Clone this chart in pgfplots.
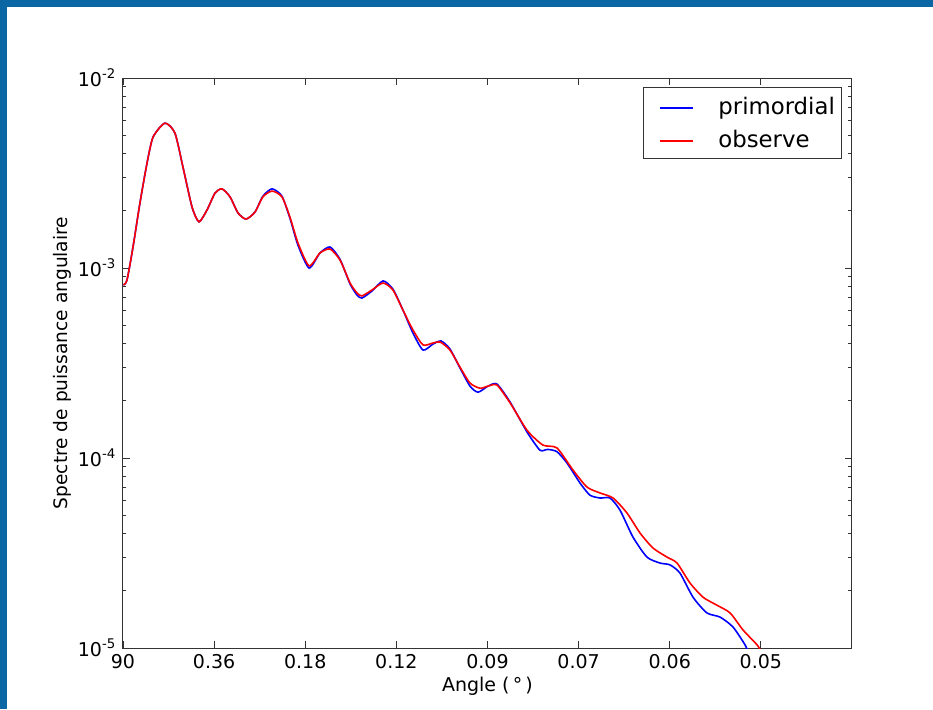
\documentclass[border=0pt]{standalone}
\usepackage{pgfplots}
\pgfplotsset{compat=1.18}
\usepackage{fontspec}
\setmainfont{DejaVu Sans}
\definecolor{frameblue}{RGB}{11,103,164}

\begin{document}
\fontsize{9.5pt}{11pt}\selectfont
\begin{tikzpicture}
  % blue frame of the slide (top and left bands)
  \fill[frameblue] (-61.5pt,324pt) rectangle (405pt,320.5pt);
  \fill[frameblue] (-61.5pt,324pt) rectangle (-58pt,-30.5pt);
  \begin{axis}[
      at={(0,0)}, anchor=south west,
      scale only axis,
      width=364.5pt, height=285pt,
      ymode=log,
      xmin=0, xmax=4000,
      ymin=1e-5, ymax=1e-2,
      xtick={0,500,1000,1500,2000,2500,3000,3500},
      xticklabels={90,0.36,0.18,0.12,0.09,0.07,0.06,0.05},
      ytick={1e-5,1e-4,1e-3,1e-2},
      yticklabels={10\textsuperscript{-5},10\textsuperscript{-4},10\textsuperscript{-3},10\textsuperscript{-2}},
      minor ytick={2e-5,3e-5,4e-5,5e-5,6e-5,7e-5,8e-5,9e-5,
                   2e-4,3e-4,4e-4,5e-4,6e-4,7e-4,8e-4,9e-4,
                   2e-3,3e-3,4e-3,5e-3,6e-3,7e-3,8e-3,9e-3},
      tick align=inside,
      major tick length=3.5pt,
      minor tick length=1.75pt,
      every tick/.style={black!80, line width=0.4pt},
      axis line style={black!80, line width=0.5pt},
      xlabel={Angle (\,°\,)},
      ylabel={Spectre de puissance angulaire},
      every axis x label/.style={at={(axis description cs:0.5,-0.0667)}, anchor=center},
      every axis y label/.style={at={(axis description cs:-0.0837,0.5)}, anchor=center, rotate=90,
                                 font=\fontsize{9.3pt}{11pt}\selectfont},
    ]
    % primordial
    \addplot[color=blue, line width=0.8pt, smooth, tension=0.4] coordinates {
      (2,8.14e-4) (22,8.65e-4) (55,1.29e-3) (93,2.20e-3) (132,3.57e-3)
      (165,4.89e-3) (230,5.79e-3) (285,5.13e-3) (329,3.40e-3) (379,2.09e-3)
      (417,1.75e-3) (461,2.02e-3) (505,2.48e-3) (543,2.61e-3) (587,2.37e-3)
      (631,1.95e-3) (675,1.81e-3) (724,1.97e-3) (768,2.39e-3) (818,2.61e-3)
      (872,2.39e-3) (916,1.83e-3) (960,1.32e-3) (1021,1.00e-3) (1081,1.20e-3)
      (1136,1.29e-3) (1191,1.11e-3) (1246,8.24e-4) (1284,7.21e-4) (1311,6.95e-4)
      (1366,7.57e-4) (1427,8.55e-4) (1481,7.75e-4) (1536,6.01e-4) (1591,4.55e-4)
      (1646,3.70e-4) (1701,3.98e-4) (1745,4.13e-4) (1794,3.75e-4) (1849,2.98e-4)
      (1904,2.39e-4) (1948,2.22e-4) (2003,2.39e-4) (2052,2.45e-4) (2124,1.97e-4)
      (2217,1.37e-4) (2288,1.10e-4) (2330,1.11e-4) (2381,1.08e-4) (2436,9.42e-5)
      (2508,7.38e-5) (2562,6.38e-5) (2617,6.16e-5) (2672,6.16e-5) (2727,5.32e-5)
      (2798,3.84e-5) (2875,3.01e-5) (2947,2.80e-5) (3001,2.74e-5) (3056,2.48e-5)
      (3128,1.85e-5) (3204,1.53e-5) (3276,1.455e-5) (3347,1.29e-5) (3413,1.04e-5)
      (3430,9.5e-6)
    };
    % observe
    \addplot[color=red, line width=0.8pt, smooth, tension=0.4] coordinates {
      (2,8.14e-4) (22,8.65e-4) (55,1.29e-3) (93,2.20e-3) (132,3.57e-3)
      (165,4.89e-3) (230,5.79e-3) (285,5.13e-3) (329,3.40e-3) (379,2.09e-3)
      (417,1.75e-3) (461,2.02e-3) (505,2.48e-3) (543,2.61e-3) (587,2.37e-3)
      (631,1.95e-3) (675,1.81e-3) (724,1.97e-3) (768,2.37e-3) (818,2.54e-3)
      (872,2.37e-3) (916,1.855e-3) (960,1.355e-3) (1021,1.026e-3) (1081,1.20e-3)
      (1136,1.259e-3) (1191,1.10e-3) (1246,8.34e-4) (1284,7.39e-4) (1311,7.13e-4)
      (1366,7.66e-4) (1427,8.34e-4) (1481,7.66e-4) (1536,6.01e-4) (1591,4.72e-4)
      (1646,3.94e-4) (1701,4.03e-4) (1740,4.08e-4) (1794,3.70e-4) (1849,3.01e-4)
      (1904,2.48e-4) (1959,2.33e-4) (2003,2.39e-4) (2052,2.42e-4) (2124,1.95e-4)
      (2217,1.40e-4) (2304,1.17e-4) (2381,1.13e-4) (2469,8.65e-5) (2546,7.03e-5)
      (2617,6.55e-5) (2689,6.16e-5) (2765,5.14e-5) (2837,4.03e-5) (2908,3.36e-5)
      (2985,3.01e-5) (3040,2.80e-5) (3111,2.20e-5) (3183,1.85e-5) (3259,1.68e-5)
      (3331,1.53e-5) (3402,1.245e-5) (3479,1.04e-5) (3496,9.8e-6)
    };
  \end{axis}
  % legend box (drawn by hand: xdvipdfmx loses the colours of legend samples)
  \draw[black!80, line width=0.5pt, fill=white] (260pt,245pt) rectangle (359pt,280.5pt);
  \draw[blue, line width=0.6pt] (268.5pt,270pt) -- (285pt,270pt);
  \draw[red, line width=0.6pt] (268.5pt,253.5pt) -- (285pt,253.5pt);
  \node[anchor=base west, inner sep=0pt, font=\fontsize{11.4pt}{13.7pt}\selectfont]
    at (297.5pt,266.6pt) {primordial};
  \node[anchor=base west, inner sep=0pt, font=\fontsize{11.4pt}{13.7pt}\selectfont]
    at (297.5pt,250.1pt) {observe};
  \pgfresetboundingbox
  \path (-61.5pt,-30.5pt) rectangle (405pt,324pt);
\end{tikzpicture}
\end{document}
